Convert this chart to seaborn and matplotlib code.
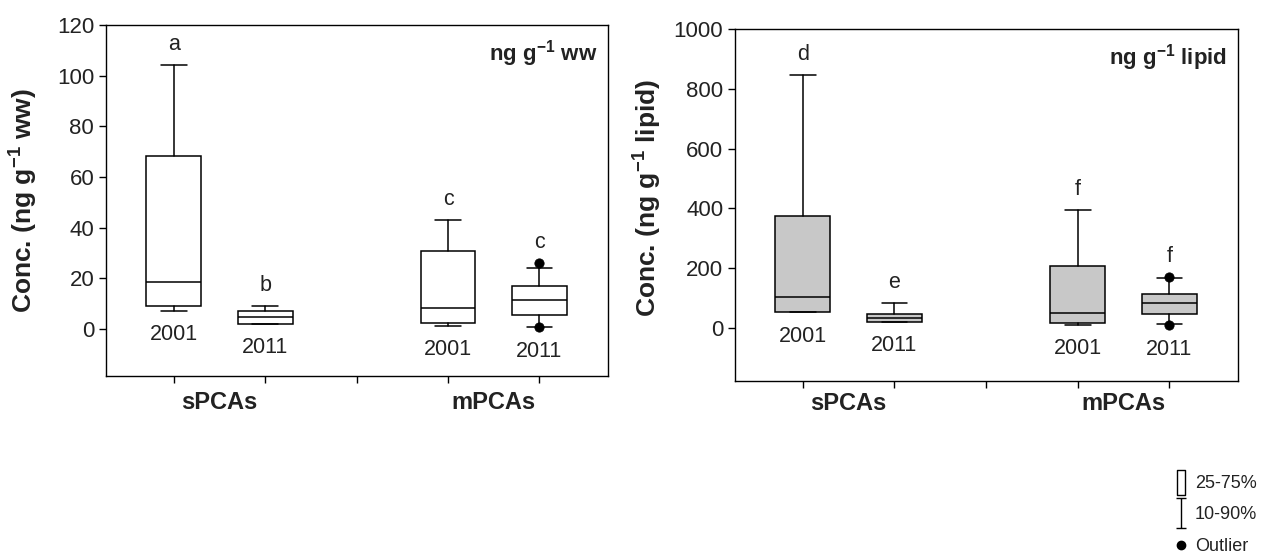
import numpy as np
import matplotlib
matplotlib.use("Agg")
import matplotlib.pyplot as plt
import seaborn as sns
import pandas as pd
from matplotlib.path import Path
from matplotlib.lines import Line2D

# ---------------- data ----------------
groups = ["sPCAs", "mPCAs"]
years = ["2001", "2011", "2001", "2011"]

# wet-weight basis (ng g-1 ww): 10th, 25th, 50th, 75th, 90th percentiles
ww_p10 = [7.2, 2.0, 1.3, 1.0]
ww_q1 = [9.2, 2.0, 2.6, 5.6]
ww_med = [18.4, 4.6, 8.5, 11.5]
ww_q3 = [68.2, 7.2, 31.0, 17.0]
ww_p90 = [104.3, 9.2, 43.0, 24.3]
ww_letters = ["a", "b", "c", "c"]
ww_out_box = [3, 3]
ww_out_val = [26.0, 0.7]

# lipid basis (ng g-1 lipid)
lip_p10 = [52, 21, 11, 12]
lip_q1 = [52, 21, 16, 47]
lip_med = [105, 33, 51, 83]
lip_q3 = [373, 47, 208, 113]
lip_p90 = [845, 83, 394, 167]
lip_letters = ["d", "e", "f", "f"]
lip_out_box = [3, 3]
lip_out_val = [170, 9]

legend_labels = ["25-75%", "10-90%", "Outlier"]

# ---------------- style ----------------
sns.set_style("ticks")
plt.rcParams["font.family"] = ["Liberation Sans", "DejaVu Sans"]
plt.rcParams["mathtext.fontset"] = "custom"
plt.rcParams["mathtext.rm"] = "Liberation Sans"
plt.rcParams["mathtext.it"] = "Liberation Sans:italic"
plt.rcParams["mathtext.bf"] = "Liberation Sans:bold"

TXT = "#222222"
positions = [1, 2, 4, 5]

fig = plt.figure(figsize=(12.61, 5.54), dpi=100)
fig.patch.set_facecolor("white")
ax1 = fig.add_axes([0.0841, 0.3213, 0.3981, 0.6336])
ax2 = fig.add_axes([0.5829, 0.3123, 0.3989, 0.6354])


def panel(ax, p10, q1, med, q3, p90, out_box, out_val, letters, fill,
          ylim, yticks, ylabel, unit, ylab_xy, cat_pad):
    stats = [dict(whislo=a, q1=b, med=c, q3=d, whishi=e, fliers=[])
             for a, b, c, d, e in zip(p10, q1, med, q3, p90)]
    lw = 1.1
    ax.bxp(stats, positions=positions, widths=0.6, capwidths=0.28,
           patch_artist=True, showfliers=False, manage_ticks=False,
           boxprops=dict(facecolor=fill, edgecolor="black", linewidth=lw),
           medianprops=dict(color="black", linewidth=lw),
           whiskerprops=dict(color="black", linewidth=lw),
           capprops=dict(color="black", linewidth=lw))
    df = pd.DataFrame({"x": [positions[i] for i in out_box], "y": out_val})
    sns.scatterplot(data=df, x="x", y="y", ax=ax, color="black", s=45,
                    edgecolor="black", zorder=5, legend=False)

    ax.set_xlim(0.26, 5.75)
    ax.set_ylim(*ylim)
    rng = ylim[1] - ylim[0]
    # significance letters & year labels
    for i, p in enumerate(positions):
        extra = [v for b, v in zip(out_box, out_val) if b == i]
        top = max([p90[i]] + extra)
        low = min([p10[i], q1[i]] + extra)
        ax.text(p, top + 0.058 * rng, letters[i], ha="center", va="center",
                fontsize=15.5, color=TXT)
        ax.text(p, low - 0.068 * rng, years[i], ha="center", va="center",
                fontsize=15.5, color=TXT)

    ax.set_yticks(yticks)
    ax.set_yticklabels([str(t) for t in yticks])
    ax.set_xticks([1, 2, 3, 4, 5])
    ax.set_xticklabels([])
    ax.set_xticks([1.5, 4.5], minor=True)
    ax.set_xticklabels(groups, minor=True, fontsize=17, fontweight="bold", color=TXT)
    ax.tick_params(axis="x", which="minor", length=0, pad=cat_pad)
    ax.tick_params(axis="both", which="major", direction="out", length=5,
                   width=1.0, color="black", labelsize=16, labelcolor=TXT)
    for s in ax.spines.values():
        s.set_visible(True)
        s.set_linewidth(1.0)
        s.set_color("black")
    ax.set_xlabel("")
    ax.set_ylabel(ylabel, fontsize=19, fontweight="bold", color=TXT)
    ax.yaxis.set_label_coords(*ylab_xy)
    ax.text(0.978, 0.92, unit, transform=ax.transAxes, ha="right", va="center",
            fontsize=16, fontweight="bold", color=TXT)


panel(ax1, ww_p10, ww_q1, ww_med, ww_q3, ww_p90, ww_out_box, ww_out_val,
      ww_letters, "white", (-18.5, 120), [0, 20, 40, 60, 80, 100, 120],
      r"Conc. (ng g$^{\mathbf{-1}}$ ww)", r"ng g$^{\mathbf{-1}}$ ww",
      (-0.131, 0.5), 11)
panel(ax2, lip_p10, lip_q1, lip_med, lip_q3, lip_p90, lip_out_box, lip_out_val,
      lip_letters, "#c8c8c8", (-177, 1000), [0, 200, 400, 600, 800, 1000],
      r"Conc. (ng g$^{\mathbf{-1}}$ lipid)", r"ng g$^{\mathbf{-1}}$ lipid",
      (-0.141, 0.52), 8)

# ---------------- legend (bottom right) ----------------
box_path = Path([(-0.32, -1), (0.32, -1), (0.32, 1), (-0.32, 1), (-0.32, -1)],
                [Path.MOVETO, Path.LINETO, Path.LINETO, Path.LINETO, Path.CLOSEPOLY])
whisk_path = Path([(-0.33, -1), (0.33, -1), (0, -1), (0, 1), (-0.33, 1), (0.33, 1)],
                  [Path.MOVETO, Path.LINETO, Path.MOVETO, Path.LINETO,
                   Path.MOVETO, Path.LINETO])
handles = [
    Line2D([], [], marker=box_path, linestyle="none", markersize=18,
           markerfacecolor="white", markeredgecolor="black", markeredgewidth=1.0),
    Line2D([], [], marker=whisk_path, linestyle="none", markersize=21,
           markerfacecolor="none", markeredgecolor="black", markeredgewidth=1.0),
    Line2D([], [], marker="o", linestyle="none", markersize=6,
           markerfacecolor="black", markeredgecolor="black"),
]
fig.legend(handles, legend_labels, loc="upper left",
           bbox_to_anchor=(1165 / 1261, 1 - 466 / 554), frameon=False,
           fontsize=13, handlelength=0.8, handletextpad=0.35,
           labelspacing=0.8, borderpad=0, labelcolor=TXT)

fig.savefig("out.png", dpi=100, facecolor="white")
